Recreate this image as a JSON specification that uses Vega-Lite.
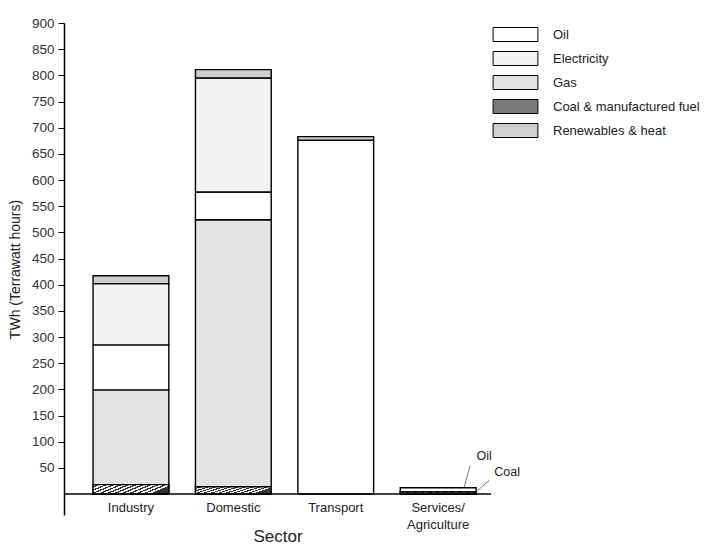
{
  "$schema": "https://vega.github.io/schema/vega-lite/v6.json",
  "width": 427,
  "height": 492,
  "autosize": {"type": "none"},
  "padding": {"left": 64, "top": 23, "right": 235, "bottom": 31},
  "background": "white",
  "config": {"view": {"stroke": null}, "font": "Liberation Sans"},
  "datasets": {
    "energy": [
      {"sector": "Industry", "type": "Coal & manufactured fuel", "ord": 1, "twh": 18},
      {"sector": "Industry", "type": "Gas", "ord": 2, "twh": 181},
      {"sector": "Industry", "type": "Oil", "ord": 3, "twh": 86},
      {"sector": "Industry", "type": "Electricity", "ord": 4, "twh": 117},
      {"sector": "Industry", "type": "Renewables & heat", "ord": 5, "twh": 15},
      {"sector": "Domestic", "type": "Coal & manufactured fuel", "ord": 1, "twh": 14},
      {"sector": "Domestic", "type": "Gas", "ord": 2, "twh": 510},
      {"sector": "Domestic", "type": "Oil", "ord": 3, "twh": 53},
      {"sector": "Domestic", "type": "Electricity", "ord": 4, "twh": 218},
      {"sector": "Domestic", "type": "Renewables & heat", "ord": 5, "twh": 16},
      {"sector": "Transport", "type": "Oil", "ord": 3, "twh": 676},
      {"sector": "Transport", "type": "Renewables & heat", "ord": 5, "twh": 7},
      {"sector": "Services/Agriculture", "type": "Coal & manufactured fuel", "ord": 1, "twh": 4},
      {"sector": "Services/Agriculture", "type": "Oil", "ord": 3, "twh": 8}
    ]
  },
  "layer": [
    {
      "data": {"name": "energy"},
      "mark": {"type": "bar", "stroke": "black", "strokeWidth": 1.4},
      "encoding": {
        "x": {
          "field": "sector", "type": "nominal", "sort": null,
          "scale": {"domain": ["Industry", "Domestic", "Transport", "Services/Agriculture"], "paddingInner": 0.26, "paddingOuter": 0.215, "align": 0.66},
          "axis": {
            "labelAngle": 0, "domain": false, "ticks": false, "labelPadding": -14,
            "labelFontSize": 13, "labelColor": "#222", "labelLineHeight": 17,
            "labelExpr": "datum.value == 'Services/Agriculture' ? ['Services/', 'Agriculture'] : datum.value",
            "title": "Sector", "titleFontSize": 17, "titleFontWeight": "normal", "titleColor": "#222",
            "titleY": 13, "titleBaseline": "top"
          }
        },
        "y": {
          "field": "twh", "type": "quantitative", "stack": "zero",
          "scale": {"domain": [-40, 900], "nice": false, "zero": false},
          "axis": {
            "values": [50, 100, 150, 200, 250, 300, 350, 400, 450, 500, 550, 600, 650, 700, 750, 800, 850, 900],
            "tickCount": 30,
            "grid": false, "domainColor": "black", "domainWidth": 1.5, "tickColor": "black",
            "tickSize": 6, "labelPadding": 4, "labelFontSize": 13.5, "labelColor": "#333",
            "labelOverlap": false, "labelFlush": false, "labelBound": false,
            "title": "TWh (Terrawatt hours)", "titleFontSize": 14, "titleFontWeight": "normal",
            "titleColor": "#222", "titleX": -42
          }
        },
        "color": {
          "field": "type", "type": "nominal",
          "scale": {
            "domain": ["Oil", "Electricity", "Gas", "Coal & manufactured fuel", "Renewables & heat"],
            "range": ["#ffffff", "#f3f3f3", "#e3e3e3", "#7a7a7a", "#cfcfcf"]
          },
          "legend": {
            "orient": "none", "legendX": 444, "legendY": 4, "title": null,
            "symbolType": "M-3.2,-1H3.2V1H-3.2Z", "symbolSize": 196,
            "symbolStrokeColor": "black", "symbolStrokeWidth": 1,
            "labelFontSize": 13, "labelColor": "#222", "labelOffset": 30, "rowPadding": 5
          }
        },
        "order": {"field": "ord", "type": "quantitative"}
      }
    },
    {
      "data": {"name": "energy"},
      "transform": [{"filter": "datum.ord == 1"}],
      "mark": {
        "type": "bar", "stroke": "black", "strokeWidth": 1.4,
        "fill": {"gradient": "linear", "x1": 0, "y1": 0, "x2": 1, "y2": 0.3, "stops": [
          {"offset": 0, "color": "#ffffff"}, {"offset": 0.05, "color": "#ffffff"},
          {"offset": 0.05, "color": "#333333"}, {"offset": 0.09, "color": "#333333"},
          {"offset": 0.09, "color": "#ffffff"}, {"offset": 0.14, "color": "#ffffff"},
          {"offset": 0.14, "color": "#333333"}, {"offset": 0.18, "color": "#333333"},
          {"offset": 0.18, "color": "#ffffff"}, {"offset": 0.23, "color": "#ffffff"},
          {"offset": 0.23, "color": "#333333"}, {"offset": 0.27, "color": "#333333"},
          {"offset": 0.27, "color": "#ffffff"}, {"offset": 0.32, "color": "#ffffff"},
          {"offset": 0.32, "color": "#333333"}, {"offset": 0.36, "color": "#333333"},
          {"offset": 0.36, "color": "#ffffff"}, {"offset": 0.41, "color": "#ffffff"},
          {"offset": 0.41, "color": "#333333"}, {"offset": 0.45, "color": "#333333"},
          {"offset": 0.45, "color": "#ffffff"}, {"offset": 0.5, "color": "#ffffff"},
          {"offset": 0.5, "color": "#333333"}, {"offset": 0.54, "color": "#333333"},
          {"offset": 0.54, "color": "#ffffff"}, {"offset": 0.59, "color": "#ffffff"},
          {"offset": 0.59, "color": "#333333"}, {"offset": 0.63, "color": "#333333"},
          {"offset": 0.63, "color": "#ffffff"}, {"offset": 0.68, "color": "#ffffff"},
          {"offset": 0.68, "color": "#333333"}, {"offset": 0.72, "color": "#333333"},
          {"offset": 0.72, "color": "#ffffff"}, {"offset": 0.77, "color": "#ffffff"},
          {"offset": 0.77, "color": "#333333"}, {"offset": 0.81, "color": "#333333"},
          {"offset": 0.81, "color": "#ffffff"}, {"offset": 0.86, "color": "#ffffff"},
          {"offset": 0.86, "color": "#333333"}, {"offset": 0.9, "color": "#333333"},
          {"offset": 0.9, "color": "#ffffff"}, {"offset": 0.95, "color": "#ffffff"},
          {"offset": 0.95, "color": "#333333"}, {"offset": 1, "color": "#333333"}
        ]}
      },
      "encoding": {
        "x": {"field": "sector", "type": "nominal", "sort": null},
        "y": {"field": "twh", "type": "quantitative", "stack": "zero"}
      }
    },
    {
      "data": {"values": [{}]},
      "mark": {"type": "rule", "color": "black", "strokeWidth": 1.5},
      "encoding": {"y": {"datum": 0}}
    },
    {
      "data": {"values": [{"sector": "Services/Agriculture", "label": "Oil", "ty": 73}]},
      "mark": {"type": "text", "fontSize": 12.5, "color": "#222", "dx": 46},
      "encoding": {
        "x": {"field": "sector", "type": "nominal", "sort": null},
        "y": {"field": "ty", "type": "quantitative"},
        "text": {"field": "label"}
      }
    },
    {
      "data": {"values": [{"sector": "Services/Agriculture", "label": "Coal", "ty": 43}]},
      "mark": {"type": "text", "fontSize": 12.5, "color": "#222", "dx": 69},
      "encoding": {
        "x": {"field": "sector", "type": "nominal", "sort": null},
        "y": {"field": "ty", "type": "quantitative"},
        "text": {"field": "label"}
      }
    },
    {
      "data": {"values": [{"sector": "Services/Agriculture", "a": 54, "b": 13}]},
      "mark": {"type": "rule", "color": "#555", "strokeWidth": 0.8, "xOffset": 32, "x2Offset": 26},
      "encoding": {
        "x": {"field": "sector", "type": "nominal", "sort": null},
        "x2": {"field": "sector"},
        "y": {"field": "a", "type": "quantitative"},
        "y2": {"field": "b"}
      }
    },
    {
      "data": {"values": [{"sector": "Services/Agriculture", "a": 26, "b": 6}]},
      "mark": {"type": "rule", "color": "#555", "strokeWidth": 0.8, "xOffset": 51, "x2Offset": 39},
      "encoding": {
        "x": {"field": "sector", "type": "nominal", "sort": null},
        "x2": {"field": "sector"},
        "y": {"field": "a", "type": "quantitative"},
        "y2": {"field": "b"}
      }
    }
  ]
}
